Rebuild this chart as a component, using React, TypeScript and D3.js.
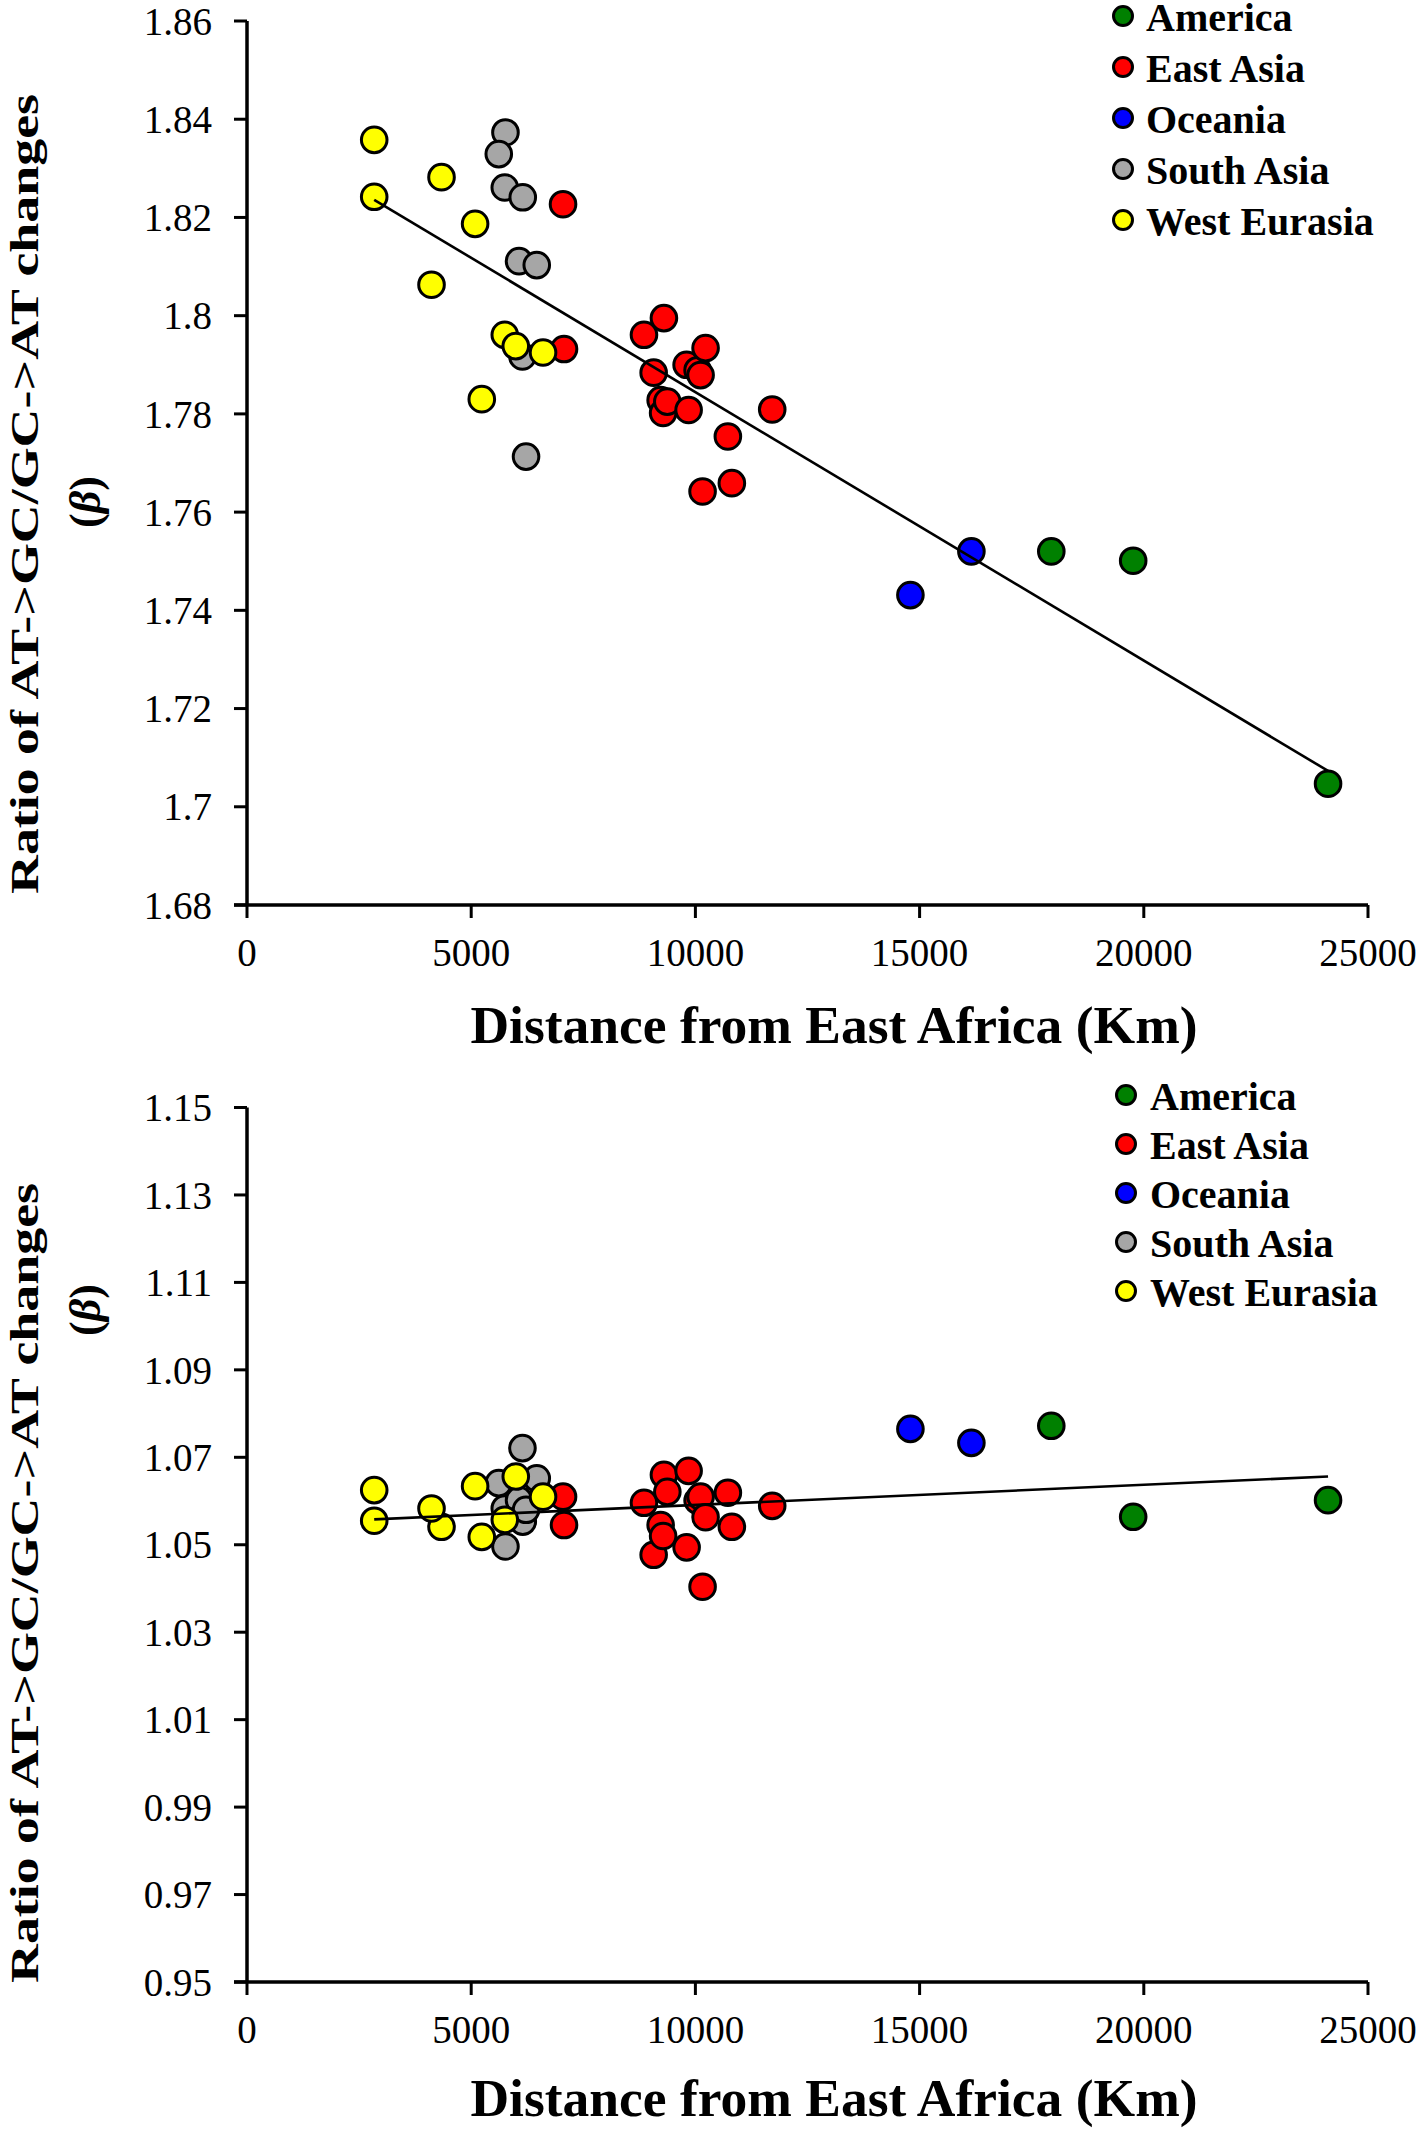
import React from "react";
import * as d3 from "d3";

const regions = ["America", "East Asia", "Oceania", "South Asia", "West Eurasia"];
const regionColors = ["#008000", "#ff0000", "#0000ff", "#a6a6a6", "#ffff00"];

// distance from East Africa (km)
const americaDist = [17937, 19763, 24109];
const eastAsiaDist = [7048, 7070, 8853, 9069, 9225, 9280, 9298, 9374, 9804, 9849, 10049, 10116, 10227, 10160, 10724, 10813, 11713];
const oceaniaDist = [14795, 16155];
const southAsiaDist = [5764, 5615, 5749, 6150, 6067, 6462, 6143, 6223];
const westEurasiaDist = [2837, 2837, 4338, 5087, 4115, 5749, 5994, 6602, 5236];

// panel A beta values
const americaTop = [1.752, 1.7501, 1.7047];
const eastAsiaTop = [1.8227, 1.7932, 1.7961, 1.7884, 1.7828, 1.7802, 1.7995, 1.7825, 1.79, 1.7808, 1.7889, 1.7879, 1.7934, 1.7642, 1.7754, 1.7659, 1.7809];
const oceaniaTop = [1.7431, 1.752];
const southAsiaTop = [1.8373, 1.8329, 1.8261, 1.8241, 1.8111, 1.8103, 1.7917, 1.7713];
const westEurasiaTop = [1.8358, 1.8242, 1.8282, 1.8187, 1.8063, 1.7961, 1.7938, 1.7925, 1.783];

// panel B beta values
const americaBottom = [1.0772, 1.0564, 1.0602];
const eastAsiaBottom = [1.061, 1.0545, 1.0596, 1.0477, 1.0545, 1.052, 1.066, 1.0621, 1.0494, 1.0669, 1.0601, 1.061, 1.0563, 1.0404, 1.0619, 1.0541, 1.0589];
const oceaniaBottom = [1.0765, 1.0733];
const southAsiaBottom = [1.0496, 1.0641, 1.0583, 1.0553, 1.0602, 1.0652, 1.0721, 1.058];
const westEurasiaBottom = [1.0625, 1.0555, 1.0541, 1.0634, 1.0583, 1.0557, 1.0656, 1.061, 1.0518];

// linear trend lines (start / end)
const trendTop = [[2837, 1.8236], [24109, 1.7073]];
const trendBottom = [[2837, 1.0558], [24109, 1.0656]];

const xTicks = [0, 5000, 10000, 15000, 20000, 25000];
const yTicksTop = [1.68, 1.7, 1.72, 1.74, 1.76, 1.78, 1.8, 1.82, 1.84, 1.86];
const yTickLabelsTop = ["1.68", "1.7", "1.72", "1.74", "1.76", "1.78", "1.8", "1.82", "1.84", "1.86"];
const yTicksBottom = [0.95, 0.97, 0.99, 1.01, 1.03, 1.05, 1.07, 1.09, 1.11, 1.13, 1.15];
const yTickLabelsBottom = ["0.95", "0.97", "0.99", "1.01", "1.03", "1.05", "1.07", "1.09", "1.11", "1.13", "1.15"];

const xTitle = "Distance from East Africa (Km)";
const yTitle = "Ratio of AT->GC/GC->AT changes";

const FONT = "'Liberation Serif', 'Times New Roman', serif";

type PanelProps = {
  dists: number[][];
  values: number[][];
  trend: number[][];
  yDomain: [number, number];
  yRange: [number, number];
  yTicks: number[];
  yTickLabels: string[];
  legend: { cx: number; tx: number; y0: number; step: number };
  yLabelCenter: number;
  betaCenter: number;
  titleOffset: number;
};

function Panel(p: PanelProps) {
  const x = d3.scaleLinear().domain([0, 25000]).range([247, 1368]);
  const y = d3.scaleLinear().domain(p.yDomain).range(p.yRange);
  const axisY = p.yRange[0];
  const line = d3
    .line<number[]>()
    .x((d) => x(d[0]))
    .y((d) => y(d[1]));
  return (
    <g>
      {regions.map((r, i) => (
        <g key={r}>
          {p.dists[i].map((d, j) => (
            <circle key={j} cx={x(d)} cy={y(p.values[i][j])} r={12.8} fill={regionColors[i]} stroke="#000" strokeWidth={3} />
          ))}
        </g>
      ))}
      <path d={line(p.trend) || ""} fill="none" stroke="#000" strokeWidth={2.6} />
      <line x1={x(0)} x2={x(0)} y1={p.yRange[1]} y2={axisY} stroke="#000" strokeWidth={3.5} />
      <line x1={x(0) - 13} x2={x(25000)} y1={axisY} y2={axisY} stroke="#000" strokeWidth={3.5} />
      {p.yTicks.map((t, i) => (
        <g key={"yt" + i}>
          <line x1={x(0) - 13} x2={x(0)} y1={y(t)} y2={y(t)} stroke="#000" strokeWidth={3} />
          <text x={212} y={y(t)} dy="0.35em" textAnchor="end" fontFamily={FONT} fontSize={39}>
            {p.yTickLabels[i]}
          </text>
        </g>
      ))}
      {xTicks.map((t) => (
        <g key={"xt" + t}>
          <line x1={x(t)} x2={x(t)} y1={axisY} y2={axisY + 13} stroke="#000" strokeWidth={3} />
          <text x={x(t)} y={axisY + 61} textAnchor="middle" fontFamily={FONT} fontSize={39}>
            {String(t)}
          </text>
        </g>
      ))}
      <text x={834} y={axisY + p.titleOffset} textAnchor="middle" fontFamily={FONT} fontSize={53.5} fontWeight="bold">
        {xTitle}
      </text>
      <text
        transform={`translate(38,${p.yLabelCenter}) rotate(-90)`}
        textAnchor="middle"
        fontFamily={FONT}
        fontSize={41}
        fontWeight="bold"
        textLength={800}
        lengthAdjust="spacingAndGlyphs"
      >
        {yTitle}
      </text>
      <text transform={`translate(100,${p.betaCenter}) rotate(-90)`} textAnchor="middle" fontFamily={FONT} fontSize={44} fontWeight="bold">
        (<tspan fontStyle="italic">β</tspan>)
      </text>
      {regions.map((r, i) => (
        <g key={"lg" + r}>
          <circle cx={p.legend.cx} cy={p.legend.y0 + i * p.legend.step - 15} r={9.5} fill={regionColors[i]} stroke="#000" strokeWidth={3} />
          <text x={p.legend.tx} y={p.legend.y0 + i * p.legend.step} fontFamily={FONT} fontSize={40} fontWeight="bold">
            {r}
          </text>
        </g>
      ))}
    </g>
  );
}

export default function App() {
  const distsAll = [americaDist, eastAsiaDist, oceaniaDist, southAsiaDist, westEurasiaDist];
  const topVals = [americaTop, eastAsiaTop, oceaniaTop, southAsiaTop, westEurasiaTop];
  const bottomVals = [americaBottom, eastAsiaBottom, oceaniaBottom, southAsiaBottom, westEurasiaBottom];
  return (
    <svg width={1418} height={2130} style={{ position: "absolute", left: 0, top: 0, background: "#fff" }}>
      <rect width={1418} height={2130} fill="#fff" />
      <Panel
        dists={distsAll}
        values={topVals}
        trend={trendTop}
        yDomain={[1.68, 1.86]}
        yRange={[905, 21]}
        yTicks={yTicksTop}
        yTickLabels={yTickLabelsTop}
        legend={{ cx: 1123, tx: 1146, y0: 31, step: 51 }}
        yLabelCenter={494}
        betaCenter={502}
        titleOffset={138}
      />
      <Panel
        dists={distsAll}
        values={bottomVals}
        trend={trendBottom}
        yDomain={[0.95, 1.15]}
        yRange={[1982, 1107.5]}
        yTicks={yTicksBottom}
        yTickLabels={yTickLabelsBottom}
        legend={{ cx: 1126, tx: 1150, y0: 1110, step: 49 }}
        yLabelCenter={1583}
        betaCenter={1310}
        titleOffset={134}
      />
    </svg>
  );
}
